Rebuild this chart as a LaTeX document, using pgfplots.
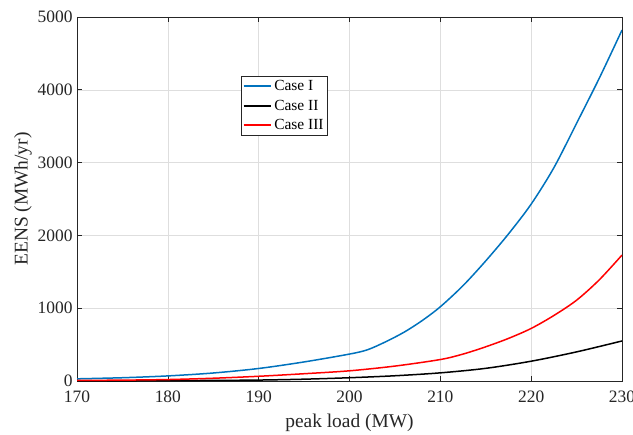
\documentclass[border=0pt]{standalone}
\usepackage{pgfplots}
\pgfplotsset{compat=1.18}
\usepackage{fontspec}
\setmainfont{Liberation Serif}
\definecolor{mblue}{rgb}{0,0.447,0.741}
\definecolor{axgray}{rgb}{0.15,0.15,0.15}
\begin{document}
\begin{tikzpicture}
\begin{axis}[
  name=ax,
  at={(0,0)}, anchor=south west,
  scale only axis,
  width=545bp, height=364bp,
  xmin=170, xmax=230, ymin=0, ymax=5000,
  xtick={170,180,...,230},
  ytick={0,1000,...,5000},
  grid=major,
  major grid style={draw=black!13, line width=0.5bp},
  axis line style={draw=axgray, line width=0.6bp},
  tick style={draw=axgray, line width=0.6bp},
  tick align=inside,
  major tick length=5bp,
  xtick pos=both, ytick pos=both,
  /pgf/number format/assume math mode=true,
  /pgf/number format/1000 sep={},
  scaled y ticks=false,
  xticklabel={\pgfmathprintnumber[assume math mode=true,1000 sep={}]{\tick}},
  yticklabel={\pgfmathprintnumber[assume math mode=true,1000 sep={}]{\tick}},
  ticklabel style={font=\fontsize{17.5}{19}\selectfont, text=axgray},
  xticklabel style={yshift=-6bp},
  yticklabel style={xshift=-1bp},
  xlabel={peak load (MW)},
  ylabel={EENS (MWh/yr)},
  label style={font=\fontsize{19.5}{22}\selectfont, text=axgray},
  xlabel style={yshift=-5bp},
  ylabel style={yshift=-1bp},
  legend style={at={(0.3,0.837)}, anchor=north west, draw=axgray,
    font=\fontsize{15.5}{17}\selectfont, inner xsep=2bp, inner ysep=2bp, row sep=3.8bp,
    legend cell align=left},
  legend image code/.code={\draw[#1, line width=1.8bp] (0cm,0cm) -- (0.98cm,0cm);},
]
\addplot[mblue, line width=1.5bp, smooth] coordinates {
(170,30) (175,45) (180,70) (185,110) (190,172) (195,262) (200,370) (202,430)
(204,540) (206,670) (208,830) (210,1020) (212.5,1310) (215,1650) (217.5,2020)
(220,2430) (222.5,2930) (225,3540) (227.5,4160) (230,4820)};
\addlegendentry{Case I}
\addplot[black, line width=1.5bp, smooth] coordinates {
(170,2) (175,3) (180,5) (185,8) (190,13) (195,25) (200,45) (205,72) (210,112)
(215,174) (220,272) (225,400) (230,550)};
\addlegendentry{Case II}
\addplot[red, line width=1.5bp, smooth] coordinates {
(170,8) (175,12) (180,20) (185,38) (190,65) (195,100) (200,140) (205,205) (210,295)
(212.5,370) (215,470) (217.5,585) (220,722) (222.5,900) (225,1110) (227.5,1390) (230,1730)};
\addlegendentry{Case III}
\end{axis}
\pgfresetboundingbox
\path ([shift={(-77bp,-53bp)}]ax.south west) rectangle ([shift={(11bp,17bp)}]ax.north east);
\end{tikzpicture}
\end{document}
